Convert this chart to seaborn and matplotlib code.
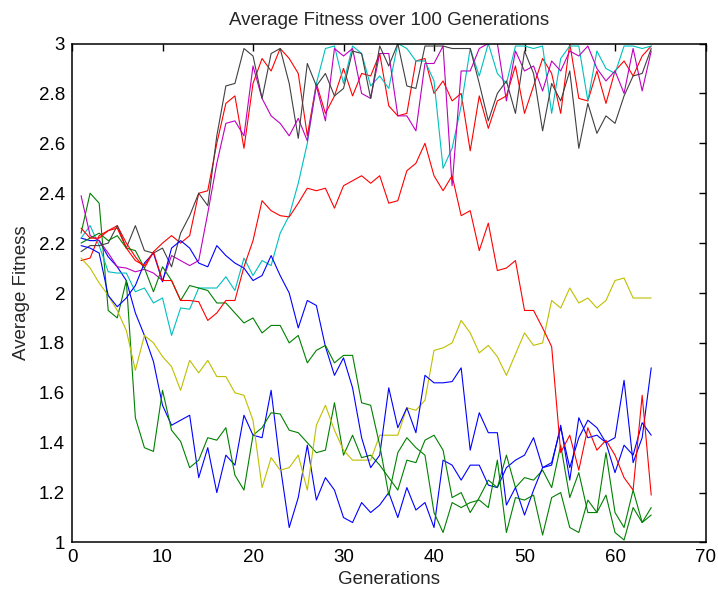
import matplotlib
matplotlib.use("Agg")
import matplotlib.pyplot as plt
import seaborn as sns
import pandas as pd
import numpy as np

generations = list(range(1, 65))

blue_a = [2.22, 2.21, 2.21, 2.145, 2.105, 2.05, 1.92, 1.83, 1.725, 1.55,
          1.47, 1.49, 1.51, 1.26, 1.38, 1.20, 1.35, 1.31, 1.51, 1.43,
          1.42, 1.61, 1.31, 1.06, 1.18, 1.39, 1.17, 1.26, 1.21, 1.10,
          1.08, 1.16, 1.12, 1.15, 1.20, 1.10, 1.22, 1.13, 1.16, 1.06,
          1.33, 1.31, 1.25, 1.31, 1.31, 1.23, 1.22, 1.30, 1.33, 1.35,
          1.42, 1.30, 1.32, 1.46, 1.30, 1.42, 1.49, 1.46, 1.40, 1.42,
          1.65, 1.32, 1.42, 1.70]
green_a = [2.24, 2.40, 2.36, 1.93, 1.90, 2.05, 1.50, 1.38, 1.365, 1.61,
           1.45, 1.405, 1.30, 1.33, 1.42, 1.41, 1.46, 1.27, 1.21, 1.43,
           1.46, 1.52, 1.515, 1.45, 1.44, 1.40, 1.36, 1.37, 1.56, 1.35,
           1.43, 1.34, 1.35, 1.31, 1.26, 1.21, 1.33, 1.32, 1.41, 1.43,
           1.37, 1.18, 1.20, 1.12, 1.18, 1.25, 1.22, 1.35, 1.22, 1.26,
           1.25, 1.29, 1.22, 1.39, 1.18, 1.28, 1.12, 1.12, 1.36, 1.12,
           1.06, 1.21, 1.08, 1.14]
red_a = [2.13, 2.14, 2.23, 2.25, 2.27, 2.20, 2.145, 2.10, 2.165, 2.20,
         2.23, 2.20, 2.23, 2.40, 2.41, 2.60, 2.76, 2.79, 2.58, 2.84,
         2.94, 2.89, 2.98, 2.94, 2.88, 2.63, 2.84, 2.72, 2.79, 2.90,
         2.79, 2.88, 2.87, 2.96, 2.75, 2.71, 2.72, 2.93, 2.94, 2.80,
         2.85, 2.77, 2.80, 2.57, 2.79, 2.66, 2.77, 2.79, 2.91, 2.72,
         2.83, 2.94, 2.88, 2.72, 3.00, 2.78, 2.77, 2.89, 2.76, 2.89,
         2.93, 2.87, 2.95, 2.99]
cyan = [2.22, 2.27, 2.19, 2.085, 2.08, 2.08, 2.005, 2.02, 1.96, 1.98,
        1.83, 1.94, 1.935, 2.02, 2.02, 2.02, 2.065, 2.01, 2.14, 2.07,
        2.13, 2.11, 2.24, 2.31, 2.44, 2.60, 2.84, 2.98, 2.99, 2.84,
        2.99, 2.96, 2.83, 2.87, 2.82, 3.00, 2.98, 2.93, 2.93, 2.85,
        2.50, 2.58, 2.75, 2.98, 2.87, 3.00, 2.88, 2.84, 2.99, 2.99,
        2.98, 2.99, 2.72, 2.94, 2.99, 2.99, 2.77, 2.97, 2.90, 2.88,
        2.99, 2.99, 2.98, 2.99]
magenta = [2.39, 2.23, 2.21, 2.16, 2.105, 2.10, 2.085, 2.095, 2.08, 2.05,
           2.15, 2.13, 2.11, 2.13, 2.32, 2.52, 2.68, 2.69, 2.63, 2.91,
           2.78, 2.71, 2.68, 2.63, 2.70, 2.61, 2.83, 2.69, 2.98, 2.95,
           2.98, 2.80, 2.78, 2.96, 2.96, 2.71, 2.71, 2.65, 2.92, 2.92,
           2.99, 2.43, 2.89, 2.89, 2.98, 3.00, 3.00, 2.77, 2.97, 2.89,
           2.91, 2.81, 2.93, 2.89, 2.97, 2.95, 2.99, 2.90, 2.85, 2.89,
           2.80, 2.98, 2.81, 2.97]
yellow = [2.14, 2.10, 2.04, 1.99, 1.93, 1.85, 1.69, 1.83, 1.80, 1.745,
          1.705, 1.61, 1.73, 1.68, 1.73, 1.665, 1.665, 1.60, 1.59, 1.49,
          1.22, 1.34, 1.29, 1.30, 1.35, 1.21, 1.47, 1.55, 1.45, 1.37,
          1.33, 1.33, 1.33, 1.43, 1.43, 1.43, 1.54, 1.53, 1.57, 1.77,
          1.78, 1.80, 1.89, 1.84, 1.76, 1.79, 1.745, 1.67, 1.755, 1.84,
          1.79, 1.80, 1.97, 1.94, 2.02, 1.96, 1.98, 1.94, 1.97, 2.05,
          2.06, 1.98, 1.98, 1.98]
gray = [2.166, 2.19, 2.19, 2.20, 2.27, 2.18, 2.27, 2.17, 2.16, 2.18,
        2.105, 2.24, 2.31, 2.40, 2.35, 2.63, 2.83, 2.84, 2.98, 2.95,
        2.78, 2.96, 2.98, 2.84, 2.62, 2.92, 2.83, 2.88, 2.79, 2.82,
        2.97, 2.96, 2.78, 2.99, 2.91, 3.00, 2.83, 2.82, 2.99, 2.99,
        2.99, 2.98, 2.98, 2.98, 2.84, 2.69, 2.80, 2.85, 2.72, 2.97,
        2.88, 2.65, 2.84, 2.77, 2.89, 2.58, 2.76, 2.64, 2.71, 2.68,
        2.79, 2.87, 2.88, 2.98]
blue_b = [2.19, 2.18, 2.16, 1.99, 1.945, 1.98, 2.03, 2.12, 2.16, 2.045,
          2.18, 2.21, 2.18, 2.12, 2.105, 2.19, 2.15, 2.12, 2.10, 2.05,
          2.07, 2.15, 2.07, 2.00, 1.86, 1.97, 1.95, 1.785, 1.67, 1.74,
          1.62, 1.42, 1.30, 1.35, 1.62, 1.46, 1.54, 1.44, 1.67, 1.64,
          1.64, 1.645, 1.70, 1.37, 1.52, 1.44, 1.44, 1.15, 1.22, 1.11,
          1.21, 1.30, 1.31, 1.47, 1.25, 1.50, 1.42, 1.43, 1.40, 1.28,
          1.39, 1.35, 1.48, 1.43]
green_b = [2.20, 2.22, 2.24, 2.21, 2.23, 2.18, 2.17, 2.10, 2.005, 2.105,
           2.05, 1.97, 2.03, 2.02, 2.01, 1.96, 1.96, 1.92, 1.88, 1.90,
           1.84, 1.87, 1.87, 1.80, 1.83, 1.72, 1.77, 1.79, 1.72, 1.75,
           1.75, 1.56, 1.55, 1.39, 1.19, 1.36, 1.42, 1.38, 1.35, 1.12,
           1.04, 1.16, 1.14, 1.16, 1.17, 1.14, 1.33, 1.04, 1.18, 1.17,
           1.19, 1.03, 1.18, 1.20, 1.06, 1.04, 1.17, 1.12, 1.19, 1.04,
           1.01, 1.14, 1.08, 1.11]
red_b = [2.26, 2.22, 2.22, 2.25, 2.26, 2.18, 2.13, 2.11, 2.165, 2.05,
         2.05, 1.97, 1.97, 1.965, 1.89, 1.92, 1.97, 1.97, 2.105, 2.21,
         2.37, 2.33, 2.31, 2.305, 2.36, 2.42, 2.41, 2.42, 2.34, 2.43,
         2.45, 2.47, 2.44, 2.47, 2.36, 2.37, 2.49, 2.52, 2.60, 2.47,
         2.41, 2.47, 2.31, 2.33, 2.17, 2.28, 2.09, 2.10, 2.13, 1.93,
         1.93, 1.86, 1.785, 1.36, 1.43, 1.29, 1.46, 1.37, 1.41, 1.35,
         1.26, 1.21, 1.59, 1.19]

series = [("run1", blue_a), ("run2", green_a), ("run3", red_a), ("run4", cyan),
          ("run5", magenta), ("run6", yellow), ("run7", gray), ("run8", blue_b),
          ("run9", green_b), ("run10", red_b)]
palette = ["#0000ff", "#008000", "#ff0000", "#00bfbf", "#bf00bf",
           "#bfbf00", "#404040", "#0000ff", "#008000", "#ff0000"]

df = pd.concat([pd.DataFrame({"Generation": generations, "Fitness": vals, "run": name})
                for name, vals in series], ignore_index=True)

sns.set_theme(style="white")
plt.rcParams["font.family"] = ["Liberation Sans", "DejaVu Sans"]
fs = 13.5

fig = plt.figure(figsize=(7.18, 5.93), dpi=100)
ax = fig.add_axes([0.1003, 0.0852, 0.8823, 0.8414])
sns.lineplot(data=df, x="Generation", y="Fitness", hue="run",
             hue_order=[s[0] for s in series], palette=palette,
             estimator=None, sort=False, linewidth=0.8, legend=False, ax=ax)

ax.set_xlim(0, 70)
ax.set_ylim(1, 3)
ax.set_xticks(range(0, 71, 10))
ax.set_yticks([1, 1.2, 1.4, 1.6, 1.8, 2, 2.2, 2.4, 2.6, 2.8, 3])
ax.set_yticklabels(["1", "1.2", "1.4", "1.6", "1.8", "2", "2.2", "2.4", "2.6", "2.8", "3"])
ax.tick_params(direction="in", top=True, right=True, length=5, width=1,
               labelsize=fs, colors="black", pad=5)
for sp in ax.spines.values():
    sp.set_visible(True)
    sp.set_color("black")
    sp.set_linewidth(1.1)
ax.set_title("Average Fitness over 100 Generations", fontsize=fs, pad=13)
ax.set_xlabel("Generations", fontsize=fs, labelpad=3)
ax.set_ylabel("Average Fitness", fontsize=fs, labelpad=6)
ax.grid(False)

fig.savefig("out.png", dpi=100, facecolor="white")
